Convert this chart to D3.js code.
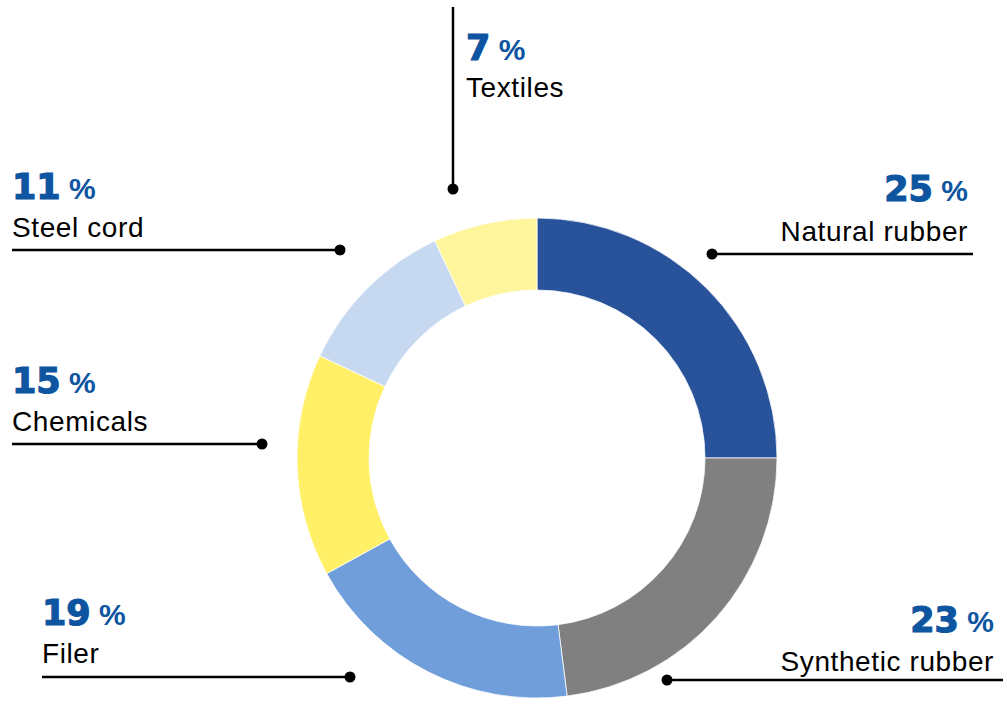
<!DOCTYPE html>
<html>
<head>
<meta charset="utf-8">
<script src="https://cdn.jsdelivr.net/npm/d3@7"></script>
<style>
  html, body { margin: 0; padding: 0; background: #fff; }
  svg { display: block; }
</style>
</head>
<body>
<svg id="chart" width="1003" height="701"></svg>
<script>
// ---- data ----
const categories = ["Natural rubber", "Synthetic rubber", "Filer", "Chemicals", "Steel cord", "Textiles"];
const values = [25, 23, 19, 15, 11, 7];
const colors = ["#28529A", "#808080", "#6F9EDB", "#FFF068", "#C6D9F0", "#FFF59C"];

// ---- layout (annotation placement) ----
const labelLayout = [
  { anchor: "end",   tx: 968, pctY: 201, nameY: 241, line: [712, 254, 973, 254], dot: [712, 254] },
  { anchor: "end",   tx: 994, pctY: 632, nameY: 671, line: [667, 680, 1003, 680], dot: [667, 680] },
  { anchor: "start", tx: 42,  pctY: 625, nameY: 663, line: [42, 677, 350, 677], dot: [350, 677] },
  { anchor: "start", tx: 12,  pctY: 393, nameY: 431, line: [12, 444, 262, 444], dot: [262, 444] },
  { anchor: "start", tx: 12,  pctY: 199, nameY: 237, line: [12, 250, 340, 250], dot: [340, 250] },
  { anchor: "start", tx: 466, pctY: 60,  nameY: 97,  line: [453, 7, 453, 189], dot: [453, 189] }
];

const svg = d3.select("#chart");
const cx = 537, cy = 458;

const pie = d3.pie().sort(null).value(d => d.value).startAngle(0).endAngle(2 * Math.PI);
const arc = d3.arc().innerRadius(168).outerRadius(240);

const data = categories.map((c, i) => ({ name: c, value: values[i], color: colors[i] }));

const g = svg.append("g").attr("transform", `translate(${cx},${cy})`);
g.selectAll("path")
  .data(pie(data))
  .join("path")
  .attr("d", arc)
  .attr("fill", d => d.data.color)
  .attr("stroke", "#ffffff")
  .attr("stroke-width", 0.75);

const labels = svg.append("g");
data.forEach((d, i) => {
  const L = labelLayout[i];
  labels.append("line")
    .attr("x1", L.line[0]).attr("y1", L.line[1])
    .attr("x2", L.line[2]).attr("y2", L.line[3])
    .attr("stroke", "#000").attr("stroke-width", 2.5);
  labels.append("circle")
    .attr("cx", L.dot[0]).attr("cy", L.dot[1]).attr("r", 5.5)
    .attr("fill", "#000");

  const pct = labels.append("text")
    .attr("x", L.tx).attr("y", L.pctY)
    .attr("text-anchor", L.anchor)
    .attr("fill", "#0D54A1");
  pct.append("tspan")
    .attr("font-family", "DejaVu Sans")
    .attr("font-weight", "bold")
    .attr("font-size", 35)
    .attr("stroke", "#0D54A1")
    .attr("stroke-width", 1.2)
    .text(d.value);
  pct.append("tspan")
    .attr("font-family", "Liberation Sans, Arial, sans-serif")
    .attr("font-weight", "bold")
    .attr("font-size", 30)
    .text(" %");

  labels.append("text")
    .attr("x", L.tx).attr("y", L.nameY)
    .attr("text-anchor", L.anchor)
    .attr("font-family", "Liberation Sans, Arial, sans-serif")
    .attr("font-size", 28)
    .attr("letter-spacing", 0.6)
    .attr("fill", "#000")
    .text(d.name);
});
</script>
</body>
</html>
